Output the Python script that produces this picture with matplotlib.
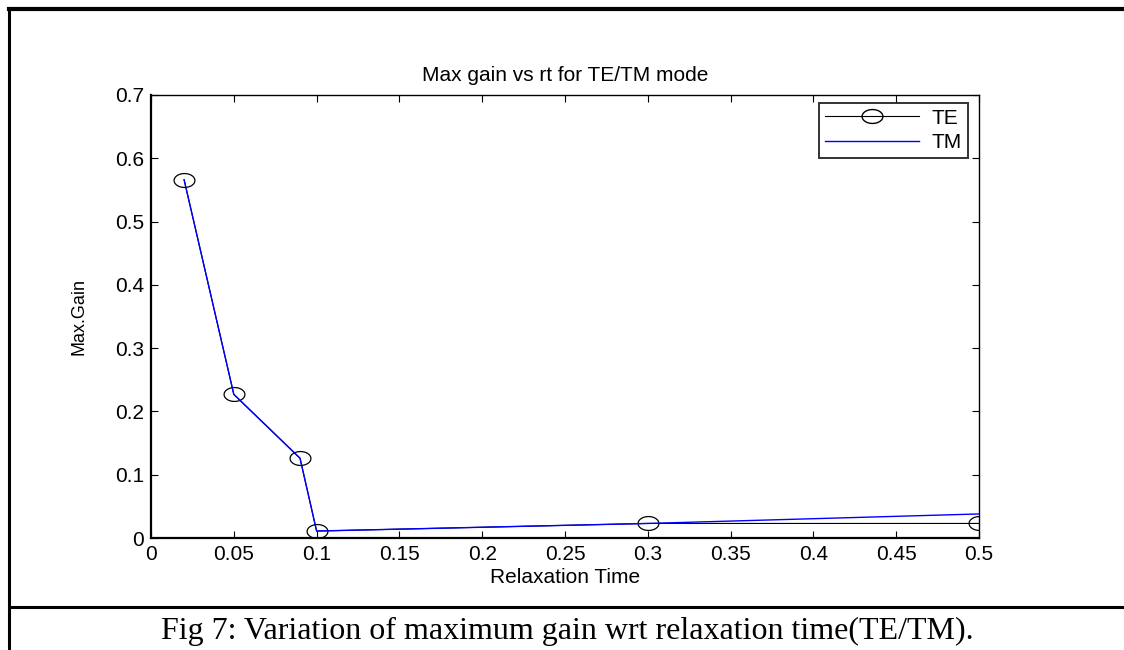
import numpy as np
import matplotlib
matplotlib.use("Agg")
import matplotlib.pyplot as plt
from matplotlib.lines import Line2D
from matplotlib.path import Path

# relaxation time vs max gain
rt = [0.02, 0.05, 0.09, 0.1, 0.3, 0.5]
gain_te = [0.566, 0.227, 0.126, 0.011, 0.023, 0.023]
gain_tm = [0.566, 0.227, 0.126, 0.011, 0.023, 0.038]

x_ticks = [0, 0.05, 0.1, 0.15, 0.2, 0.25, 0.3, 0.35, 0.4, 0.45, 0.5]
x_labels = ["0", "0.05", "0.1", "0.15", "0.2", "0.25", "0.3", "0.35", "0.4", "0.45", "0.5"]
y_ticks = [0, 0.1, 0.2, 0.3, 0.4, 0.5, 0.6, 0.7]
y_labels = ["0", "0.1", "0.2", "0.3", "0.4", "0.5", "0.6", "0.7"]

plt.rcParams['font.family'] = ['Liberation Sans', 'DejaVu Sans']

W, H = 1124, 650
fig = plt.figure(figsize=(W / 100, H / 100), dpi=100)


def px(x0, y0, x1, y1):
    # pixel box (top-left origin) -> figure fraction rect
    return [x0 / W, 1 - y1 / H, (x1 - x0) / W, (y1 - y0) / H]


# flattened circle marker (figure was exported stretched sideways)
t = np.linspace(0, 2 * np.pi, 60)
oval = Path(np.column_stack([1.5 * np.cos(t), np.sin(t)]), closed=True)

# frame around the figure and caption
frame = fig.add_axes([0, 0, 1, 1])
frame.set_xlim(0, W)
frame.set_ylim(H, 0)
frame.axis("off")
frame.plot([8.5, 8.5], [8.5, H], color="black", lw=2.2)
frame.plot([8.5, W], [9, 9], color="black", lw=3)
frame.plot([8.5, W], [607, 607], color="black", lw=2.2)
frame.text(567, 631, "Fig 7: Variation of maximum gain wrt relaxation time(TE/TM).",
           ha="center", va="center", fontsize=23, family="Liberation Serif")

ax = fig.add_axes(px(151, 95, 979, 538))
ax.plot(rt, gain_te, color="black", lw=0.8, marker=oval, markersize=15,
        markerfacecolor="none", markeredgecolor="black", markeredgewidth=0.9, label="TE")
ax.plot(rt, gain_tm, color="blue", lw=1.0, label="TM")

ax.set_xlim(0, 0.5)
ax.set_ylim(0, 0.7)
ax.set_xticks(x_ticks)
ax.set_xticklabels(x_labels)
ax.set_yticks(y_ticks)
ax.set_yticklabels(y_labels)
ax.tick_params(direction="in", top=True, right=True, length=5, width=0.8,
               labelsize=15, pad=5)
for s in ax.spines.values():
    s.set_linewidth(1.0)
ax.spines["left"].set_linewidth(1.6)
ax.spines["bottom"].set_linewidth(1.6)

ax.set_title("Max gain vs rt for TE/TM mode", fontsize=15, pad=10)
ax.set_xlabel("Relaxation Time", fontsize=15, labelpad=3)
ax.set_ylabel("Max.Gain", fontsize=13, labelpad=20)

handles = [Line2D([], [], color="black", lw=0.8, marker=oval, markersize=15,
                  markerfacecolor="none", markeredgecolor="black"),
           Line2D([], [], color="blue", lw=1.0)]
leg = ax.legend(handles, ["TE", "TM"], loc="upper right", fontsize=15,
                frameon=True, fancybox=False, shadow=False, handlelength=4.5,
                handletextpad=0.6, borderaxespad=0, borderpad=0.3,
                labelspacing=0.25, bbox_to_anchor=(0.987, 0.983))
leg.get_frame().set_edgecolor("black")
leg.get_frame().set_linewidth(1.4)

fig.savefig("out.png", dpi=100)
